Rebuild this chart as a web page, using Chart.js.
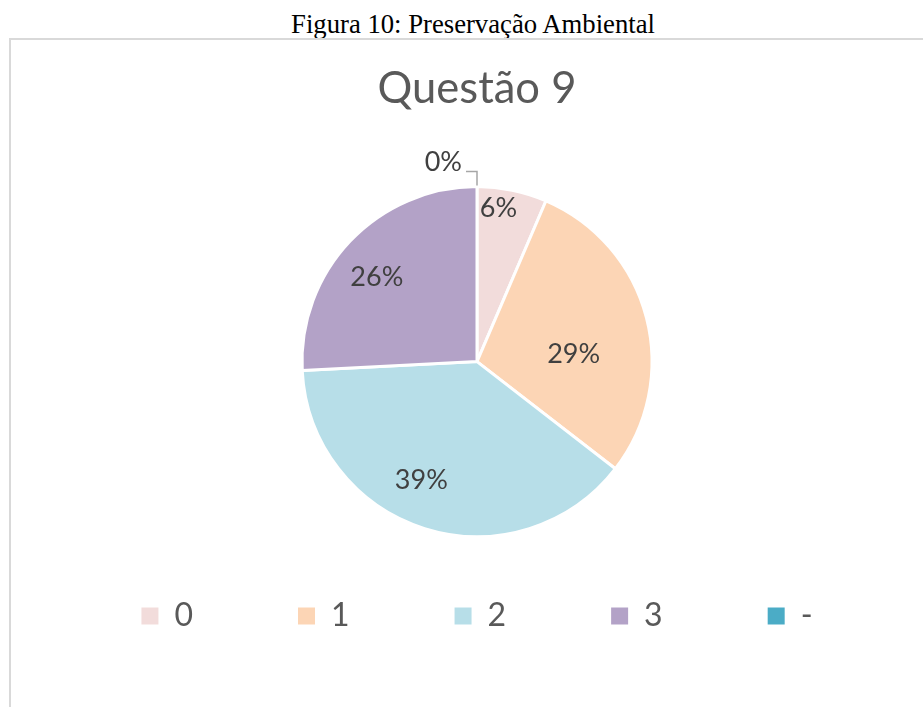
<!DOCTYPE html>
<html>
<head>
<meta charset="utf-8">
<script src="https://cdn.jsdelivr.net/npm/chart.js@4/dist/chart.umd.min.js"></script>
<style>
  html, body { margin: 0; padding: 0; background: #fff; overflow: hidden; }
  body { width: 923px; height: 707px; position: relative; }
  #caption {
    position: absolute; left: 0; top: 11px; width: 946px; text-align: center;
    font-family: "Liberation Serif", "Times New Roman", serif; font-size: 26.7px; line-height: 26.5px; color: #000;
  }
  #frame {
    position: absolute; left: 9px; top: 38px; width: 980px; height: 700px;
    border-left: 2px solid #d9d9d9; border-top: 2px solid #d9d9d9;
  }
  #wrap { position: absolute; left: 0; top: 40px; width: 952px; height: 667px; }
</style>
</head>
<body>
<div id="caption">Figura 10: Preservação Ambiental</div>
<div id="frame"></div>
<div id="wrap"><canvas id="pie"></canvas></div>
<script>
const categories = ['0', '1', '2', '3', '-'];
const answers = [2, 9, 12, 8, 0];
const sliceColors = ['#f2dcdb', '#fcd5b5', '#b7dee8', '#b3a2c7', '#4bacc6'];

// label placement tweaks per slice: [radius fraction, angle shift in degrees]
const labelNudge = [[0.887, -3.7], [0.554, 10.3], [0.747, 7.8], [0.749, -3.4], [1, 0]];

const total = answers.reduce((a, b) => a + b, 0);

// draws the percentage labels like Excel does (0% goes outside with a leader line)
const pieLabels = {
  id: 'pieLabels',
  afterDatasetsDraw(chart) {
    const ctx = chart.ctx;
    const meta = chart.getDatasetMeta(0);
    ctx.save();
    ctx.font = '27px Lato';
    ctx.fillStyle = '#404040';
    ctx.textBaseline = 'middle';
    meta.data.forEach((arc, i) => {
      const pct = Math.round(answers[i] / total * 100) + '%';
      const { x, y, startAngle, endAngle, outerRadius } = arc.getProps(['x', 'y', 'startAngle', 'endAngle', 'outerRadius'], true);
      if (answers[i] === 0) {
        const ex = x + Math.cos(startAngle) * outerRadius;
        const ey = y + Math.sin(startAngle) * outerRadius;
        const ly = ey - 15;
        ctx.strokeStyle = '#a6a6a6';
        ctx.lineWidth = 1.5;
        ctx.beginPath();
        ctx.moveTo(ex, ey - 1);
        ctx.lineTo(ex, ly);
        ctx.lineTo(ex - 11, ly);
        ctx.stroke();
        ctx.textAlign = 'right';
        ctx.fillText(pct, ex - 15, ly - 9);
        return;
      }
      const [frac, shift] = labelNudge[i];
      const mid = (startAngle + endAngle) / 2 + shift * Math.PI / 180;
      ctx.textAlign = 'center';
      ctx.fillText(pct, x + Math.cos(mid) * outerRadius * frac, y + Math.sin(mid) * outerRadius * frac);
    });
    ctx.restore();
  }
};

const ctx = document.getElementById('pie').getContext('2d');
new Chart(ctx, {
  type: 'pie',
  data: {
    labels: categories,
    datasets: [{
      data: answers,
      backgroundColor: sliceColors,
      borderColor: '#ffffff',
      borderWidth: 3,
      radius: 175,
      clip: false
    }]
  },
  options: {
    responsive: true,
    maintainAspectRatio: false,
    animation: false,
    layout: { padding: { left: 2, bottom: 65 } },
    plugins: {
      title: {
        display: true,
        text: 'Questão 9',
        color: '#595959',
        font: { family: 'Lato', size: 43.5, weight: 'normal' },
        padding: { top: 23, bottom: 113 }
      },
      legend: {
        position: 'bottom',
        labels: {
          color: '#595959',
          font: { family: 'Lato', size: 32 },
          boxWidth: 17,
          boxHeight: 17,
          padding: 105,
          generateLabels(chart) {
            return Chart.overrides.pie.plugins.legend.labels.generateLabels(chart)
              .map(item => ({ ...item, lineWidth: 0, strokeStyle: item.fillStyle }));
          }
        }
      },
      tooltip: { enabled: false }
    }
  },
  plugins: [pieLabels]
});
</script>
</body>
</html>
